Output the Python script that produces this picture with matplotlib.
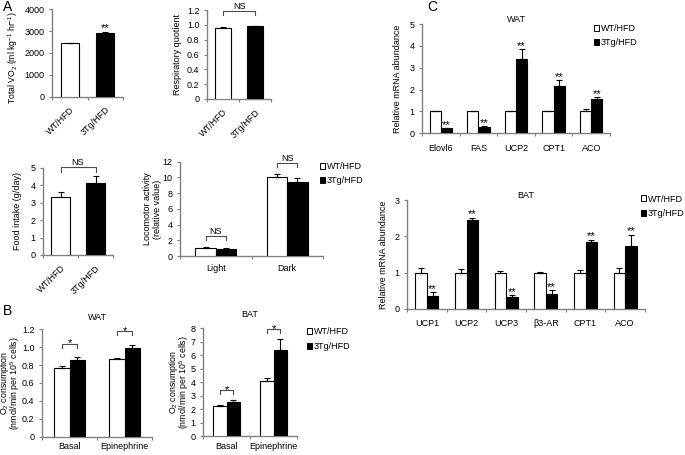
import matplotlib
matplotlib.use("Agg")
import matplotlib.pyplot as plt
import numpy as np
from matplotlib.patches import Patch
from matplotlib.ticker import FuncFormatter

plt.rcParams["font.family"] = ["Liberation Sans", "DejaVu Sans"]
plt.rcParams["mathtext.default"] = "regular"
plt.rcParams["font.size"] = 6.5

# ---- data ----
groups = ["WT/HFD", "3Tg/HFD"]

vo2 = [2440, 2910]
vo2_err = [30, 40]

rq = [0.96, 0.98]
rq_err = [0.01, 0.01]

food = [3.33, 4.12]
food_err = [0.25, 0.38]

loco_cats = ["Light", "Dark"]
loco_wt = [1.02, 10.0]
loco_wt_err = [0.08, 0.45]
loco_tg = [0.95, 9.45]
loco_tg_err = [0.12, 0.5]

o2_cats = ["Basal", "Epinephrine"]
o2_wat_wt = [0.77, 0.87]
o2_wat_wt_err = [0.02, 0.01]
o2_wat_tg = [0.86, 0.99]
o2_wat_tg_err = [0.03, 0.04]
o2_bat_wt = [2.2, 4.1]
o2_bat_wt_err = [0.08, 0.2]
o2_bat_tg = [2.55, 6.42]
o2_bat_tg_err = [0.1, 0.75]

wat_genes = ["Elovl6", "FAS", "UCP2", "CPT1", "ACO"]
wat_wt = [1.0, 1.0, 1.0, 1.0, 1.0]
wat_wt_err = [0.01, 0.04, 0.04, 0.04, 0.1]
wat_tg = [0.22, 0.31, 3.40, 2.17, 1.55]
wat_tg_err = [0.02, 0.02, 0.45, 0.25, 0.1]

bat_genes = ["UCP1", "UCP2", "UCP3", "β3-AR", "CPT1", "ACO"]
bat_wt = [1.0, 1.0, 1.0, 1.0, 1.0, 1.0]
bat_wt_err = [0.12, 0.09, 0.05, 0.01, 0.07, 0.14]
bat_tg = [0.37, 2.46, 0.34, 0.41, 1.84, 1.73]
bat_tg_err = [0.09, 0.05, 0.04, 0.1, 0.07, 0.32]

W, H = 685, 455
fig = plt.figure(figsize=(W / 100, H / 100), dpi=100)
SPINE = "0.5"
FS = 6.5


def px_axes(x0, y0, x1, y1):
    return fig.add_axes([x0 / W, 1 - y1 / H, (x1 - x0) / W, (y1 - y0) / H])


def fmt_tick(fmt):
    return FuncFormatter(lambda v, p: "0" if abs(v) < 1e-9 else fmt % v)


def style_axes(ax, ymax, step, fmt, ncat, xpad):
    for s in ("top", "right"):
        ax.spines[s].set_visible(False)
    for s in ("left", "bottom"):
        ax.spines[s].set_color(SPINE)
        ax.spines[s].set_linewidth(1.0)
    ax.set_ylim(0, ymax)
    ax.set_yticks(np.arange(0, ymax + step / 2, step))
    ax.yaxis.set_major_formatter(fmt_tick(fmt))
    ax.tick_params(axis="y", direction="out", length=2.5, width=0.8, color=SPINE,
                   labelsize=FS, pad=3)
    ax.set_xlim(-0.5, ncat - 0.5)
    ax.set_xticks(np.arange(-0.5, ncat, 1.0), minor=True)
    ax.tick_params(axis="x", which="minor", direction="out", length=2.5, width=0.8,
                   color=SPINE)
    ax.tick_params(axis="x", which="major", length=0, labelsize=FS, pad=xpad)


def err_kw():
    return dict(ecolor="black", elinewidth=0.8, capsize=2, capthick=0.8)


def single_bars(ax, vals, errs, width=0.5):
    x = np.arange(len(vals))
    ax.bar(x, vals, width, color=["white", "black"], edgecolor="black", linewidth=0.8,
           yerr=[np.zeros(len(errs)), errs], error_kw=err_kw(), zorder=3)
    ax.set_xticks(x)
    ax.set_xticklabels(groups, rotation=45, ha="right", rotation_mode="anchor")
    return x


def pair_bars(ax, cats, wt, wt_err, tg, tg_err, width=0.286):
    x = np.arange(len(cats))
    ax.bar(x - width / 2, wt, width, color="white", edgecolor="black", linewidth=0.8,
           yerr=[np.zeros(len(wt)), wt_err], error_kw=err_kw(), zorder=3)
    ax.bar(x + width / 2, tg, width, color="black", edgecolor="black", linewidth=0.8,
           yerr=[np.zeros(len(tg)), tg_err], error_kw=err_kw(), zorder=3)
    ax.set_xticks(x)
    ax.set_xticklabels(cats)
    return x


def bracket(ax, x1, x2, y, h, text):
    ax.plot([x1, x1, x2, x2], [y - h, y, y, y - h], color="0.3", lw=0.8,
            clip_on=False, zorder=4)
    if text == "*":
        ax.annotate(text, ((x1 + x2) / 2, y), xytext=(0, -3.5), textcoords="offset points",
                    ha="center", va="bottom", fontsize=8, annotation_clip=False)
    else:
        ax.annotate(text, ((x1 + x2) / 2, y), xytext=(0, 0), textcoords="offset points",
                    ha="center", va="bottom", fontsize=FS, annotation_clip=False)


def stars(ax, x, tops, errs, dy):
    for xi, t, e in zip(x, tops, errs):
        ax.annotate("**", (xi, t + e), xytext=(0, dy), textcoords="offset points",
                    ha="center", va="center", fontsize=8, annotation_clip=False)


def legend_at(ax, px, py):
    handles = [Patch(facecolor="white", edgecolor="black", linewidth=0.7),
               Patch(facecolor="black", edgecolor="black", linewidth=0.7)]
    ax.legend(handles, groups, loc="upper left", bbox_to_anchor=(px / W, 1 - py / H),
              bbox_transform=fig.transFigure, frameon=False, fontsize=FS,
              handlelength=0.6, handleheight=0.6, handletextpad=0.15,
              labelspacing=0.6, borderpad=0, borderaxespad=0)


def ylabel_px(lines, xs, yc, fs=FS):
    for text, px in zip(lines, xs):
        fig.text(px / W, 1 - yc / H, text, rotation=90, ha="center", va="center",
                 fontsize=fs)


# ---- A: VO2 ----
ax = px_axes(52, 9.3, 123, 96.7)
style_axes(ax, 4000, 1000, "%d", 2, 6)
x = single_bars(ax, vo2, vo2_err)
stars(ax, x[1:], vo2[1:], vo2_err[1:], 3.0)
ylabel_px(["Total VO$_2$ (ml kg$^{-1}$ hr$^{-1}$)"], [13], 58, fs=6.2)

# ---- A: RQ ----
ax = px_axes(207, 10, 271, 99)
style_axes(ax, 1.2, 0.2, "%.1f", 2, 6)
x = single_bars(ax, rq, rq_err, width=0.53)
bracket(ax, x[0], x[1], 1.18, 0.05, "NS")
ylabel_px(["Respiratory quotient"], [177], 54.5)

# ---- A: food intake ----
ax = px_axes(43, 167.7, 113, 255)
style_axes(ax, 5, 1, "%d", 2, 6)
x = single_bars(ax, food, food_err, width=0.52)
bracket(ax, x[0], x[1], max(np.add(food, food_err)) + 0.55, 0.28, "NS")
ylabel_px(["Food intake (g/day)"], [18], 211)

# ---- A: locomotor ----
ax = px_axes(180, 161.7, 323, 256)
style_axes(ax, 12, 2, "%d", 2, 6)
x = pair_bars(ax, loco_cats, loco_wt, loco_wt_err, loco_tg, loco_tg_err)
for i in range(len(x)):
    top = max(loco_wt[i] + loco_wt_err[i], loco_tg[i] + loco_tg_err[i])
    bracket(ax, x[i] - 0.143, x[i] + 0.143, top + 1.4, 0.5, "NS")
ylabel_px(["Locomotor activity", "(relative value)"], [147, 157], 209)
legend_at(ax, 320, 162)

# ---- B: WAT O2 ----
ax = px_axes(42, 329.3, 152, 436.7)
style_axes(ax, 1.2, 0.2, "%.1f", 2, 4)
x = pair_bars(ax, o2_cats, o2_wat_wt, o2_wat_wt_err, o2_wat_tg, o2_wat_tg_err)
for i in range(len(x)):
    top = max(o2_wat_wt[i] + o2_wat_wt_err[i], o2_wat_tg[i] + o2_wat_tg_err[i])
    bracket(ax, x[i] - 0.143, x[i] + 0.143, top + 0.15, 0.045, "*")
ax.set_title("WAT", fontsize=FS, pad=7)
ylabel_px(["O$_2$ consumption", "(nmol/min per 10$^5$ cells)"], [5, 15.5], 383, fs=6.3)

# ---- B: BAT O2 ----
ax = px_axes(203, 328.3, 297, 436)
style_axes(ax, 8, 1, "%d", 2, 4)
x = pair_bars(ax, o2_cats, o2_bat_wt, o2_bat_wt_err, o2_bat_tg, o2_bat_tg_err)
for i in range(len(x)):
    top = max(o2_bat_wt[i] + o2_bat_wt_err[i], o2_bat_tg[i] + o2_bat_tg_err[i])
    bracket(ax, x[i] - 0.143, x[i] + 0.143, top + 0.76, 0.3, "*")
ax.set_title("BAT", fontsize=FS, pad=8)
ylabel_px(["O$_2$ consumption", "(nmol/min per 10$^5$ cells)"], [173.5, 184], 382, fs=6.3)
legend_at(ax, 307, 327.5)

# ---- C: WAT mRNA ----
ax = px_axes(422, 24, 610, 133.3)
style_axes(ax, 5, 1, "%d", len(wat_genes), 7.5)
x = pair_bars(ax, wat_genes, wat_wt, wat_wt_err, wat_tg, wat_tg_err, width=0.3)
stars(ax, x + 0.15, wat_tg, wat_tg_err, 2.5)
ax.set_title("WAT", fontsize=FS, pad=1)
ylabel_px(["Relative mRNA abundance"], [398], 78.7)
legend_at(ax, 594, 24)

# ---- C: BAT mRNA ----
ax = px_axes(407, 200, 645, 309)
style_axes(ax, 3, 1, "%d", len(bat_genes), 7.5)
x = pair_bars(ax, bat_genes, bat_wt, bat_wt_err, bat_tg, bat_tg_err)
stars(ax, x + 0.143, bat_tg, bat_tg_err, 2.5)
ax.set_title("BAT", fontsize=FS, pad=1)
ylabel_px(["Relative mRNA abundance"], [383], 254.5)
legend_at(ax, 641, 194.5)

# panel letters
fig.text(3 / W, 1 - 0 / H, "A", fontsize=10, va="top")
fig.text(3 / W, 1 - 304 / H, "B", fontsize=10, va="top")
fig.text(427 / W, 1 - 0 / H, "C", fontsize=10, va="top")

fig.savefig("out.png", dpi=100)
